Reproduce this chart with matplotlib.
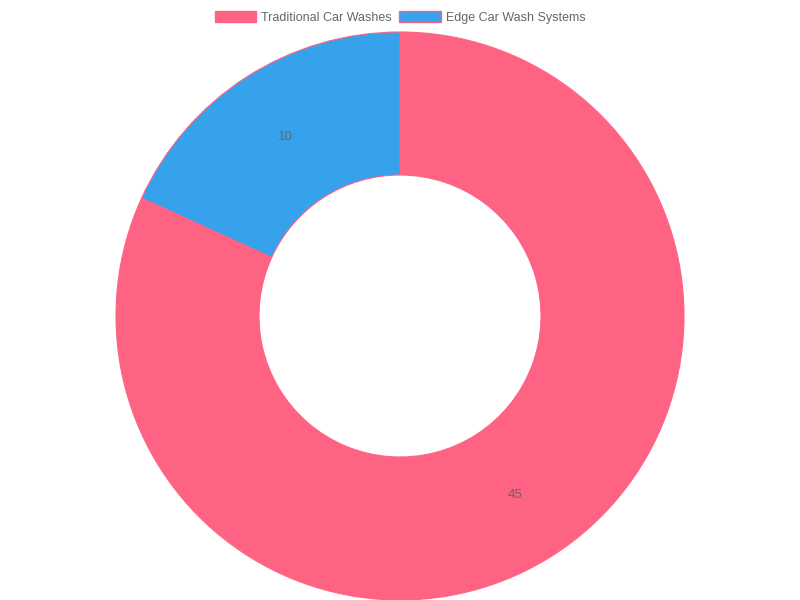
import matplotlib
matplotlib.use("Agg")
import matplotlib.pyplot as plt
from matplotlib.patches import Patch

plt.rcParams['font.family'] = ['Liberation Sans', 'DejaVu Sans']

labels = ["Traditional Car Washes", "Edge Car Wash Systems"]
values = [45, 10]
colors = ["#FF6384", "#36A2EB"]
border = "#FF6384"

fig = plt.figure(figsize=(8, 6), dpi=100)
ax = fig.add_axes([0, 0, 1, 1])
ax.set_xlim(0, 800)
ax.set_ylim(0, 600)
ax.set_aspect('equal')
ax.axis('off')

outer = 284
inner = 141
wedges, texts, autotexts = ax.pie(
    values, colors=colors, startangle=90, counterclock=False,
    center=(400, 284), radius=outer,
    wedgeprops=dict(width=outer - inner, edgecolor=border, linewidth=0.8),
    autopct=lambda p: "%d" % round(p * sum(values) / 100),
    pctdistance=(outer + inner) / 2 / outer,
    textprops=dict(color="#666666", fontsize=9.5),
)
ax.set_xlim(0, 800)
ax.set_ylim(0, 600)

handles = [Patch(facecolor=c, edgecolor=border, linewidth=1) for c in colors]
fig.legend(handles, labels, loc='upper center', bbox_to_anchor=(0.5, 1.0),
           ncol=2, frameon=False, fontsize=9, labelcolor="#666666",
           handlelength=3.3, handleheight=0.9, handletextpad=0.4,
           columnspacing=0.6)

fig.savefig("out.png", dpi=100)
